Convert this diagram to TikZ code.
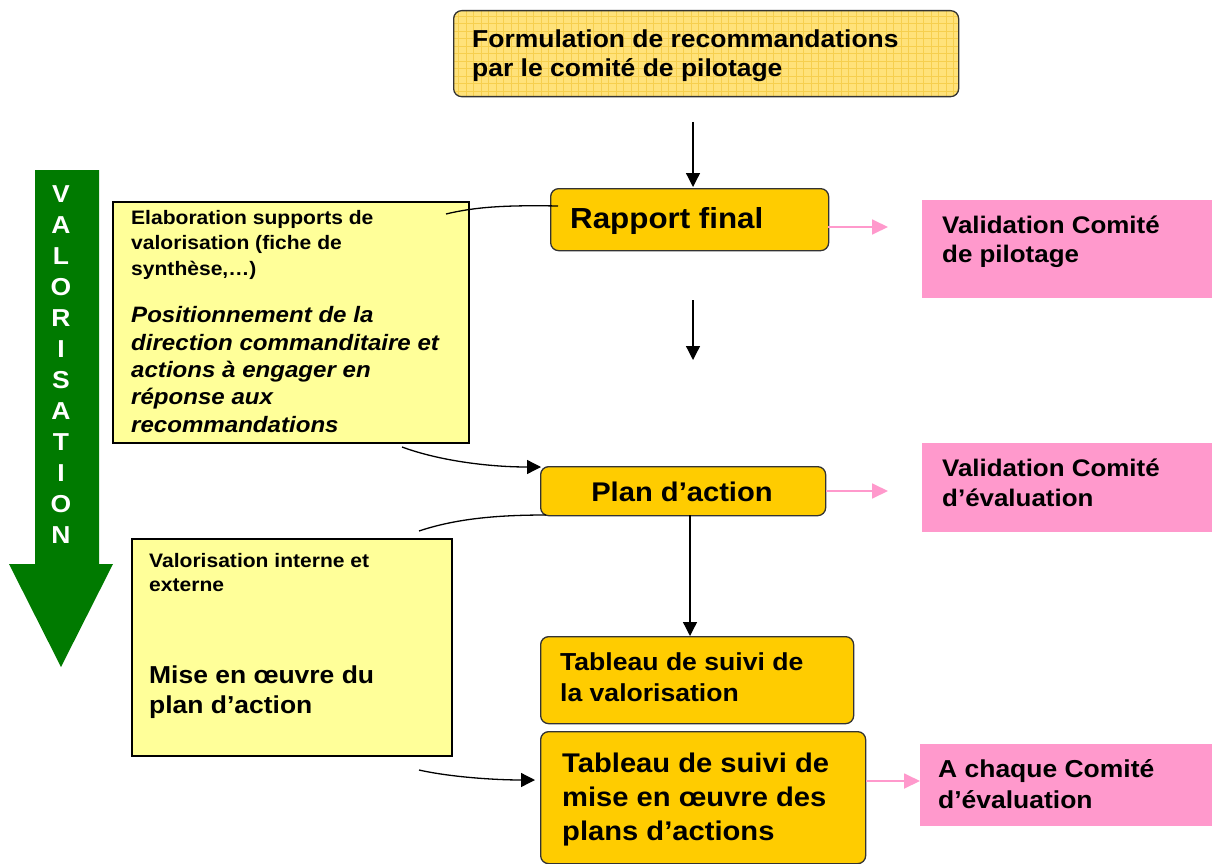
\documentclass[tikz,border=0pt]{standalone}
\usepackage{fontspec}
\newfontfamily\af[FakeStretch=1.08]{Liberation Sans}
\usetikzlibrary{arrows.meta}
\definecolor{gold}{HTML}{FFCC00}
\definecolor{lyel}{HTML}{FFFF99}
\definecolor{pinkc}{HTML}{FF99CC}
\definecolor{vert}{HTML}{007A00}
\definecolor{topfill}{HTML}{FFE27A}
\definecolor{topgrid}{HTML}{F6CF4E}
\tikzset{
  goldbox/.style={draw=black!80, line width=1.3pt, fill=gold, rounded corners=8pt, inner sep=0pt, anchor=north west},
  notebox/.style={draw=black, line width=1.8pt, fill=lyel, inner sep=0pt, anchor=north west},
  pinkbox/.style={fill=pinkc, inner sep=0pt, anchor=north west},
  txt/.style={inner sep=0pt, anchor=base west, align=left},
  blk/.style={line width=1.3pt, -{Triangle[length=14pt,width=14pt]}},
  pnk/.style={draw=pinkc, line width=1.8pt, -{Triangle[length=16pt,width=15pt]}},
  crv/.style={line width=1.3pt},
  letter/.style={inner sep=0pt, anchor=base, text=white, font=\af\bfseries\fontsize{24.5}{24.5}\selectfont},
}
\begin{document}
\begin{tikzpicture}[x=1pt,y=-1pt]
\useasboundingbox (0,0) rectangle (1212,864);

% green arrow
\path[fill=vert] (35,170) -- (99,170) -- (99,564) -- (113,564) -- (61,667) -- (9,564) -- (35,564) -- cycle;
\foreach \l [count=\i from 0] in {V,A,L,O,R,I,S,A,T,I,O,N}{
  \node[letter] (g\i) at (61,{202+31*\i}) {\l};
}

% top box (base anchor = baseline of the last line)
\node[goldbox, fill=topfill, minimum width=505pt, minimum height=86pt,
  path picture={\draw[topgrid, line width=0.7pt, step=7.5pt] (path picture bounding box.south west) grid (path picture bounding box.north east);}] (top) at (453,10) {};
\node[txt, font=\af\bfseries\fontsize{24.5}{29}\selectfont] (topt) at (472,77) {Formulation de recommandations\\par le comité de pilotage};

% Rapport final
\node[goldbox, minimum width=278pt, minimum height=62pt] (rf) at (550,188) {};
\node[txt, font=\af\bfseries\fontsize{29}{34}\selectfont] (rft) at (570,228) {Rapport final};

% pink 1
\node[pinkbox, minimum width=290pt, minimum height=98pt] (p1) at (922,200) {};
\node[txt, font=\af\bfseries\fontsize{24}{29}\selectfont] (p1t) at (942,262) {Validation Comité\\de pilotage};

% left note 1
\node[notebox, minimum width=356pt, minimum height=241pt] (n1) at (112,201) {};
\node[txt, font=\af\bfseries\fontsize{19.5}{25.5}\selectfont] (n1a) at (131,275) {Elaboration supports de\\valorisation (fiche de\\synthèse,…)};
\node[txt, font=\af\bfseries\itshape\fontsize{22.3}{27.3}\selectfont] (n1b) at (131,432) {Positionnement de la\\direction commanditaire et\\actions à engager en\\réponse aux\\recommandations};

% Plan d'action
\node[goldbox, minimum width=285pt, minimum height=49pt] (pa) at (540,466) {};
\node[txt, anchor=base, font=\af\bfseries\fontsize{27}{32}\selectfont] (pat) at (682,501) {Plan d’action};

% pink 2
\node[pinkbox, minimum width=290pt, minimum height=89pt] (p2) at (922,443) {};
\node[txt, font=\af\bfseries\fontsize{24}{30}\selectfont] (p2t) at (942,506) {Validation Comité\\d’évaluation};

% left note 2
\node[notebox, minimum width=320pt, minimum height=217pt] (n2) at (131,538) {};
\node[txt, font=\af\bfseries\fontsize{19.5}{24.5}\selectfont] (n2a) at (149,591.5) {Valorisation interne et\\externe};
\node[txt, font=\af\bfseries\fontsize{24.5}{30}\selectfont] (n2b) at (149,713) {Mise en œuvre du\\plan d’action};

% Tableau 1
\node[goldbox, minimum width=313pt, minimum height=87pt] (t1) at (540,636) {};
\node[txt, font=\af\bfseries\fontsize{24.6}{31}\selectfont] (t1t) at (560,701) {Tableau de suivi de\\la valorisation};

% Tableau 2
\node[goldbox, minimum width=325pt, minimum height=132pt] (t2) at (540,731) {};
\node[txt, font=\af\bfseries\fontsize{27}{34}\selectfont] (t2t) at (562,840) {Tableau de suivi de\\mise en œuvre des\\plans d’actions};

% pink 3
\node[pinkbox, minimum width=292pt, minimum height=82pt] (p3) at (920,744) {};
\node[txt, font=\af\bfseries\fontsize{24.5}{31}\selectfont] (p3t) at (938,808) {A chaque Comité\\d’évaluation};

% connector end points
\coordinate (a1s) at (693,122);
\coordinate (a1e) at (693,187);
\coordinate (a2s) at (693,300);
\coordinate (a2e) at (693,360);
\coordinate (a3s) at (690,515);
\coordinate (a3e) at (690,636);
\coordinate (rfr) at (828,227);
\coordinate (p1l) at (888,227);
\coordinate (par) at (826,491);
\coordinate (p2l) at (888,491);
\coordinate (t2r) at (866,781);
\coordinate (p3l) at (920,781);
\coordinate (c1a) at (558,206);
\coordinate (c1b) at (446,214);
\coordinate (c2a) at (402,447);
\coordinate (c2b) at (541,467);
\coordinate (c3a) at (546,515);
\coordinate (c3b) at (419,531);
\coordinate (c4a) at (419,770);
\coordinate (c4b) at (535,780);

\draw[blk] (a1s) -- (a1e);
\draw[blk] (a2s) -- (a2e);
\draw[blk] (a3s) -- (a3e);
\draw[pnk] (rfr) -- (p1l);
\draw[pnk] (par) -- (p2l);
\draw[pnk] (t2r) -- (p3l);
\draw[crv] (c1a) .. controls (505,205) and (475,207) .. (c1b);
\draw[blk] (c2a) .. controls (440,461) and (490,467) .. (c2b);
\draw[crv] (c3a) .. controls (495,515) and (455,519) .. (c3b);
\draw[blk] (c4a) .. controls (450,777) and (495,780) .. (c4b);
\end{tikzpicture}
\end{document}
